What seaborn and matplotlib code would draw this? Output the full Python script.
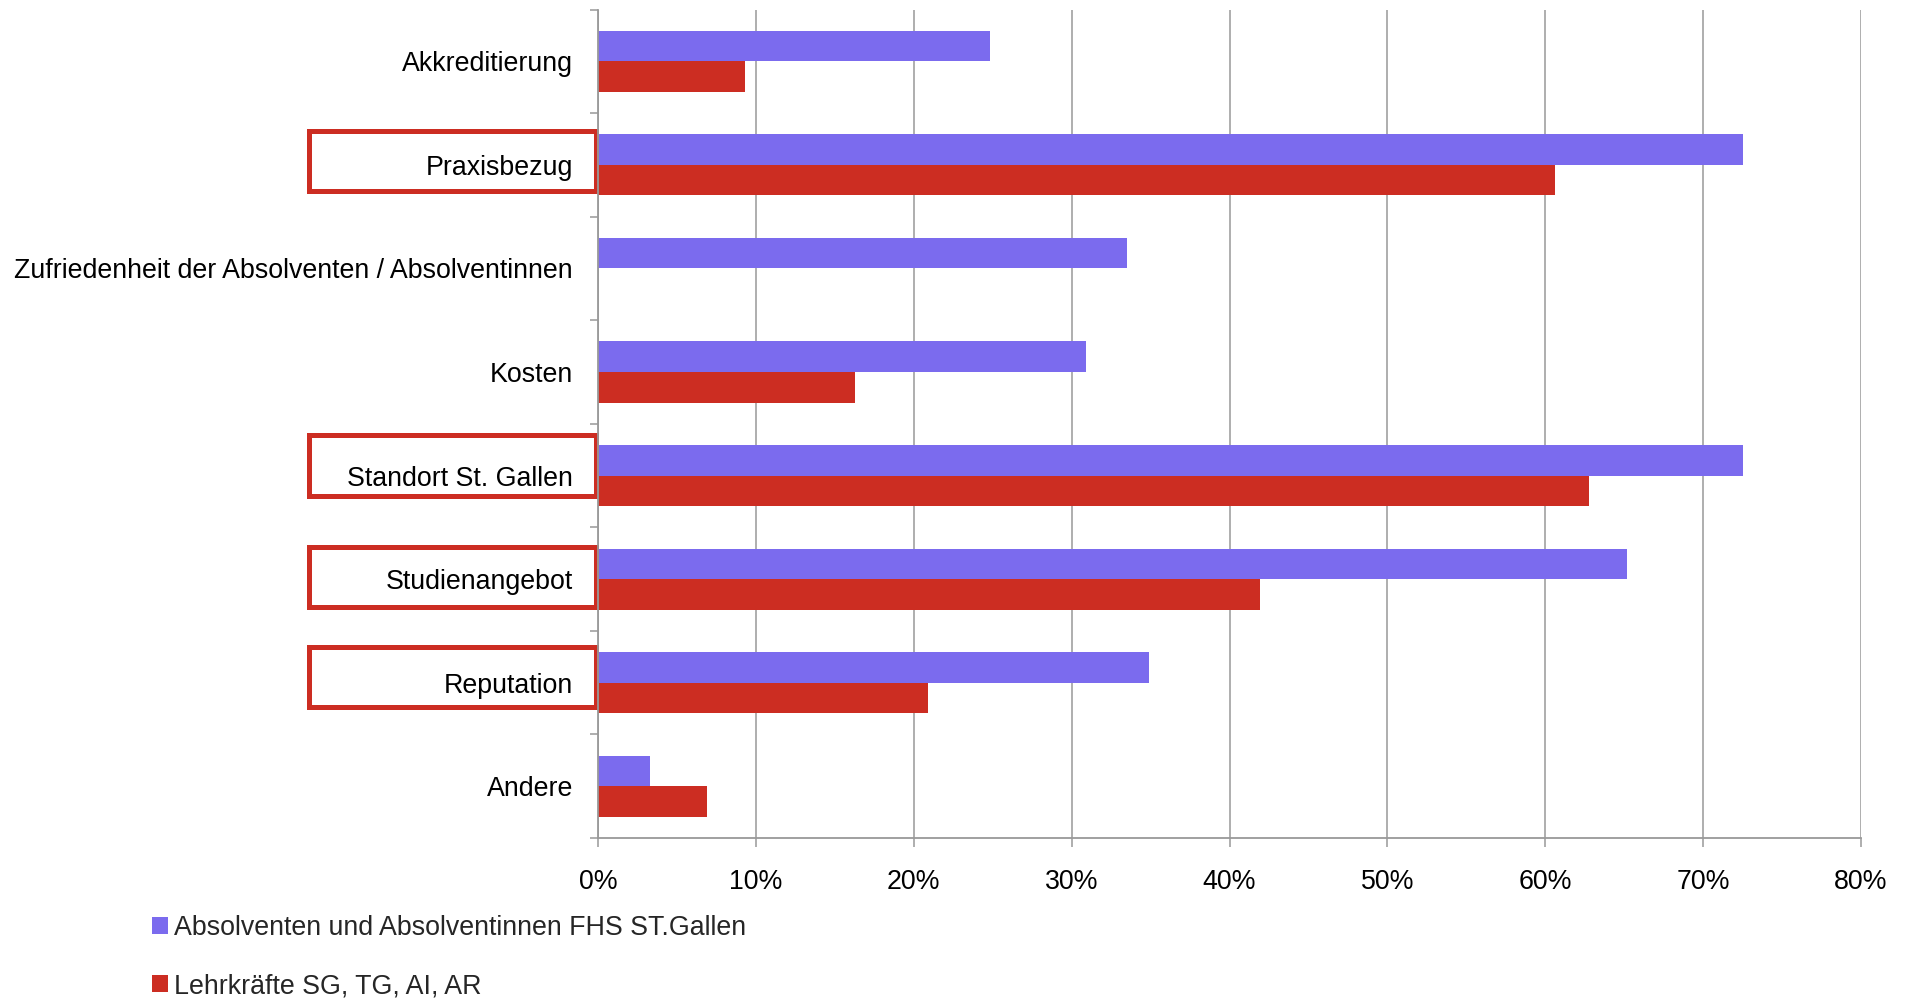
import matplotlib
matplotlib.use("Agg")
import matplotlib.pyplot as plt
import matplotlib.transforms as mtransforms
from matplotlib.patches import Patch, Rectangle
from matplotlib.ticker import FuncFormatter
import numpy as np
import pandas as pd
import seaborn as sns

# Survey: reasons for choosing the university (share of respondents)
categories = [
    "Akkreditierung",
    "Praxisbezug",
    "Zufriedenheit der Absolventen / Absolventinnen",
    "Kosten",
    "Standort St. Gallen",
    "Studienangebot",
    "Reputation",
    "Andere",
]
series_names = [
    "Absolventen und Absolventinnen FHS ST.Gallen",
    "Lehrkräfte SG, TG, AI, AR",
]
absolventen = [24.8, 72.5, 33.5, 30.9, 72.5, 65.2, 34.9, 3.3]
lehrkraefte = [9.3, 60.6, 0.0, 16.3, 62.8, 41.9, 20.9, 6.9]
x_ticks = [0, 10, 20, 30, 40, 50, 60, 70, 80]

# Categories that get a highlight frame around their label (with a small vertical nudge)
highlighted = [("Praxisbezug", -0.036), ("Standort St. Gallen", -0.097),
               ("Studienangebot", -0.02), ("Reputation", -0.058)]

BLUE = "#7B6BEE"
RED = "#CC2D22"
GRID = "#999999"
FONT = 19.3

sns.set_theme(style="white")
plt.rcParams["font.family"] = ["Liberation Sans", "DejaVu Sans"]

df = pd.DataFrame({
    "Kategorie": categories * 2,
    "Anteil": absolventen + lehrkraefte,
    "Gruppe": [series_names[0]] * len(categories) + [series_names[1]] * len(categories),
})

fig = plt.figure(figsize=(19.07, 10.0), dpi=100)
ax = fig.add_axes([0.3136, 0.162, 0.6623, 0.8285])

sns.barplot(
    data=df, x="Anteil", y="Kategorie", hue="Gruppe", orient="h",
    order=categories, hue_order=series_names, palette=[BLUE, RED],
    width=0.59, saturation=1, linewidth=0, legend=False, ax=ax,
)

n = len(categories)
ax.set_xlim(x_ticks[0], x_ticks[-1])
ax.set_ylim(n - 0.5, -0.5)
ax.set_xlabel("")
ax.set_ylabel("")

# x axis: percentage ticks with vertical grid lines
ax.set_xticks(x_ticks)
ax.xaxis.set_major_formatter(FuncFormatter(lambda v, _: f"{v:.0f}%"))
ax.grid(axis="x", color=GRID, linewidth=1.1)
ax.grid(axis="y", visible=False)
ax.set_axisbelow(True)
ax.tick_params(axis="x", which="major", direction="out", length=6.5, width=1.1,
               color=GRID, pad=15.5, labelsize=FONT, labelcolor="black", bottom=True)

# y axis: small ticks between categories, labels at the category centres
ax.set_yticks(np.arange(n + 1) - 0.5)
ax.set_yticklabels([])
ax.tick_params(axis="y", which="major", direction="out", length=6, width=1.1,
               color=GRID, left=True)
ax.set_yticks(np.arange(n), minor=True)
ax.set_yticklabels(categories, minor=True)
ax.tick_params(axis="y", which="minor", length=0, pad=18, labelsize=FONT,
               labelcolor="black", left=True)

for side in ("top", "right"):
    ax.spines[side].set_visible(False)
for side in ("left", "bottom"):
    ax.spines[side].set_color(GRID)
    ax.spines[side].set_linewidth(1.3)

# Highlight frames around selected category labels
trans = mtransforms.blended_transform_factory(ax.transAxes, ax.transData)
for name, dy in highlighted:
    yc = categories.index(name) + dy
    ax.add_patch(Rectangle((-0.2292, yc - 0.29), 0.2272, 0.58, transform=trans,
                           fill=False, edgecolor=RED, linewidth=3.6, clip_on=False))

# Legend below the chart, bottom-left
handles = [Patch(facecolor=BLUE, edgecolor="none"), Patch(facecolor=RED, edgecolor="none")]
fig.legend(handles, series_names, loc="upper left", bbox_to_anchor=(0.0797, 0.085),
           frameon=False, fontsize=FONT, handlelength=0.58, handleheight=0.58,
           handletextpad=0.25, labelspacing=1.2, borderpad=0, borderaxespad=0)

fig.savefig("out.png", dpi=100, facecolor="white")
